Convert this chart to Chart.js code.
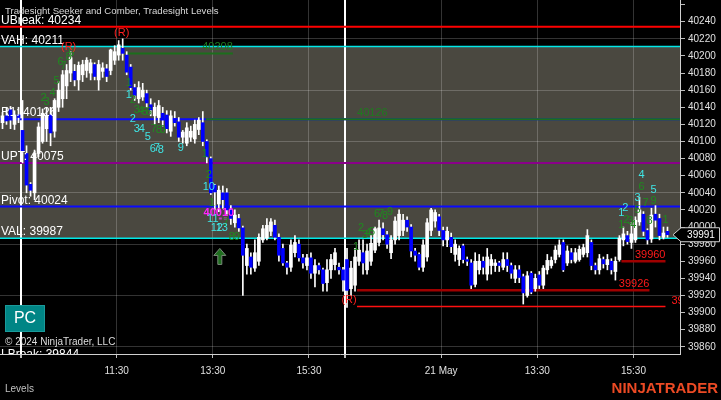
<!DOCTYPE html>
<html><head><meta charset="utf-8">
<script src="https://cdn.jsdelivr.net/npm/chart.js@4/dist/chart.umd.min.js"></script>
<style>html,body{margin:0;padding:0;background:#000;overflow:hidden}#wrap{width:721px;height:400px;position:relative}</style>
</head><body><div id="wrap"><canvas id="c" width="721" height="400"></canvas></div>
<script>
// ---------- DATA ----------
const FIRST_BAR_INDEX = -5; // bar index of first candle (prior session tail)
const opens = [40122,40130,40137,40120,40131,
40113,40086,40050,40040,40086,40100,40115,40131,40112,40140,40150,40165,40180,40182,40172,40178,40183,40180,40190,40172,40182,40185,40183,40195,40201,40209,40201,40187,40163,40150,40152,40156,40143,40130,40128,40133,40131,40112,40127,40123,40105,40098,40105,40103,40114,40122,40100,40080,40049,40027,40040,40040,40020,40005,40010,39999,39955,39965,39952,39960,39985,39987,39995,40002,39988,39975,39958,39953,39970,39980,39964,39955,39964,39946,39955,39950,39935,39950,39956,39953,39950,
39962,39928,39932,39960,39970,39950,39960,39973,39982,39998,39991,39970,39985,39990,39996,40008,40000,39972,39968,39953,39965,39996,40007,40012,39996,39985,39988,39968,39962,39978,39962,39958,39933,39950,39960,39945,39955,39955,39958,39953,39962,39955,39940,39950,39942,39920,39946,39928,39944,39932,39950,39955,39962,39968,39982,39958,39970,39960,39962,39968,39970,39982,39955,39950,39962,39956,39960,39948,39962,39985,39990,39982,39985,40006,40015,39996,39986,40015,40010,39988,39995];
const highs = [40134,40140,40141,40136,40140,
40148,40095,40052,40090,40122,40138,40140,40140,40150,40170,40183,40190,40205,40190,40193,40195,40198,40196,40192,40195,40192,40190,40208,40212,40218,40220,40205,40190,40167,40170,40168,40160,40150,40145,40148,40140,40136,40136,40135,40128,40113,40122,40118,40125,40128,40135,40102,40082,40050,40048,40048,40045,40025,40020,40015,40001,39980,39970,39985,39992,40002,40010,40010,40008,39992,39980,39960,39985,39990,39985,39968,39968,39970,39962,39958,39952,39962,39968,39975,39958,39953,
39975,39960,39975,39985,39985,39980,39990,40000,40008,40005,39995,39990,40012,40020,40015,40012,40003,39975,39970,39985,40010,40022,40020,40015,40000,40000,39993,39985,39978,39980,39965,39962,39970,39968,39965,39975,39968,39962,39960,39970,39970,39958,39955,39955,39945,39948,39948,39945,39948,39955,39968,39965,39978,39985,39985,39978,39975,39975,39978,39980,39997,39985,39958,39968,39965,39968,39963,39965,39990,40000,39995,40005,40012,40035,40018,39998,40022,40025,40015,40000,40000];
const lows = [40115,40120,40115,40114,40122,
40075,40040,40036,40032,40082,40098,40100,40095,40105,40135,40140,40150,40170,40165,40160,40170,40175,40172,40172,40160,40175,40170,40178,40190,40195,40195,40178,40160,40148,40145,40148,40140,40130,40120,40122,40118,40110,40106,40118,40100,40098,40095,40100,40098,40108,40095,40075,40038,40020,40018,40022,40015,40003,40000,39995,39920,39945,39945,39948,39955,39982,39985,39990,39985,39960,39955,39945,39948,39965,39960,39952,39950,39940,39930,39945,39925,39925,39940,39950,39945,39925,
39906,39920,39925,39955,39945,39945,39955,39970,39978,39985,39975,39963,39980,39985,39990,39995,39965,39960,39950,39948,39960,39990,40000,39990,39978,39977,39970,39960,39955,39958,39955,39928,39930,39945,39945,39938,39945,39948,39948,39950,39948,39940,39935,39935,39910,39918,39922,39925,39928,39928,39945,39952,39958,39965,39948,39955,39958,39958,39960,39965,39965,39950,39945,39945,39952,39950,39945,39938,39960,39978,39980,39975,39982,40002,39990,39980,39982,40000,39985,39986,39988];
const closes = [40130,40124,40125,40131,40128,
40088,40049,40043,40086,40117,40133,40130,40110,40148,40160,40178,40183,40198,40172,40189,40190,40195,40192,40176,40190,40186,40176,40207,40205,40213,40203,40181,40163,40154,40163,40160,40145,40137,40140,40142,40125,40115,40130,40122,40105,40111,40116,40112,40120,40125,40100,40082,40040,40041,40043,40032,40020,40010,40014,39999,39967,39975,39953,39970,39988,39998,40002,40006,39988,39967,39958,39953,39979,39982,39964,39958,39964,39946,39955,39950,39934,39950,39962,39970,39950,39938,
39926,39952,39965,39973,39958,39972,39981,39998,39999,39991,39980,39985,40007,40015,40008,40000,39972,39967,39953,39979,40005,40020,40017,39996,39985,39995,39977,39980,39975,39962,39960,39932,39960,39960,39953,39965,39962,39958,39955,39962,39955,39946,39950,39941,39923,39943,39924,39940,39932,39952,39961,39961,39973,39979,39950,39972,39962,39970,39974,39976,39990,39955,39950,39963,39957,39962,39950,39960,39987,39992,39983,39992,40008,40020,39995,39985,40014,40008,39990,39993,39991];

const levelNames  = ['UBreak','VAH','R1','UPT','Pivot','VAL','LBreak'];
const levelValues = [40234,40211,40126,40075,40024,39987,39844];
const levelColors = ['#ff0000','#00e8e8','#0a0aff','#8a008a','#0a0aff','#00e8e8','#ff0000'];

const xTickPos   = [-0.5, 23.5, 47.5, 71.5, 80.5, 104.5, 128.5, 152.5];
const xTickText  = ['', '11:30', '13:30', '15:30', '', '21 May', '13:30', '15:30'];
const sessionBreaks = [-0.5, 80.5];
const yTicks = [39860,39880,39900,39920,39940,39960,39980,40000,40020,40040,40060,40080,40100,40120,40140,40160,40180,40200,40220,40240,40260];
const yGridPrices = [39860,39920,39980,40040,40100,40160,40220];

// segments: [fromIdx, toIdx, price]
const segGreen  = [[26.25, 52.5, 40203],[45.75, 170, 40126]];
const segDarkRed= [[149.5, 160.5, 39960],[83.5, 156.5, 39926]];
const segRed    = [[83.5, 160.5, 39907]];
const segMagenta= [[49, 52.5, 40010]];
// segment labels: [idx, price, text, align]
const segGreenLabels = [[52.5, 40203, '40208', 'right'], [83.5, 40126, '40126', 'left']];
const segRedLabels   = [[160.5, 39960, '39960', 'right'], [156.5, 39926, '39926', 'right'], [162, 39907, '39906', 'left']];
const magentaLabels  = [[49, 40016, '40010']];

// counts: [idx, price, text]
const greenCounts = [[5.25,40151,'2'],[6,40146,'3'],[7.5,40157,'4'],[8.5,40171,'5'],[9.5,40193,'6'],[10.25,40188,'7'],[11.5,40199,'8'],[12.25,40203,'9'],
 [26.5,40168,'1'],[27.5,40148,'2'],[28.5,40137,'3'],[29.5,40136,'4'],[30.5,40135,'5'],[31.5,40134,'6'],[32.75,40115,'7'],[34,40113,'8'],[35,40113,'9'],
 [45.5,40086,'1'],[46.5,40061,'2'],[47.25,40028,'1'],[50.75,40005,'7'],[52.25,39988,'8'],[53.5,39988,'9'],
 [83.25,39977,'1'],[84.5,39999,'2'],[85.5,39991,'3'],[86.25,39993,'4'],[87.25,39994,'5'],[88.5,40015,'6'],[89.5,40015,'7'],[90.5,40013,'8'],[91.75,40018,'9'],
 [149.5,40003,'1'],[150.75,40008,'2'],[151.75,40007,'3'],[152.5,40002,'4'],[153.5,40020,'5'],[154.5,40047,'6'],[155.5,40028,'7'],[156.5,40007,'8'],[157.5,40030,'9'],[160.5,40008,'1']];
const cyanCounts = [[26.5,40154,'1'],[27.5,40126,'2'],[28.5,40115,'3'],[29.75,40115,'4'],[31.25,40105,'5'],[32.5,40091,'6'],[33.5,40092,'7'],[34.5,40090,'8'],[39.5,40092,'9'],
 [46.5,40047,'10'],[47.5,40009,'11'],[48.5,39999,'12'],[49.75,39999,'13'],
 [149.5,40016,'1'],[150.5,40022,'2'],[153.5,40034,'3'],[154.5,40061,'4'],[157.5,40043,'5']];
const rMarks = [[11.5,40210],[24.75,40227],[81.5,39915]];
const arrowMarks = [[49.25,39975]];

// ---------- CHART ----------
const xs = opens.map((_, k) => FIRST_BAR_INDEX + k);
const FONT = '"Liberation Sans", Arial, sans-serif';

function txt(ctx, s, x, y, color, font, align, base){
  ctx.fillStyle = color; ctx.font = font; ctx.textAlign = align || 'center'; ctx.textBaseline = base || 'middle'; ctx.fillText(s, x, y);
}
function hline(ctx, x1, x2, y, color, w, dash){
  ctx.beginPath(); ctx.strokeStyle = color; ctx.lineWidth = w; ctx.setLineDash(dash || []);
  ctx.moveTo(x1, y); ctx.lineTo(x2, y); ctx.stroke(); ctx.setLineDash([]);
}

const overlay = {
  id: 'overlay',
  beforeDraw(chart){
    const {ctx, chartArea: a, scales: {y}} = chart;
    ctx.save();
    ctx.fillStyle = '#000'; ctx.fillRect(0, 0, chart.width, chart.height);
    const yTop = y.getPixelForValue(levelValues[1]), yBot = y.getPixelForValue(levelValues[5]);
    ctx.fillStyle = 'rgb(74,72,64)'; ctx.fillRect(a.left, yTop, a.right - a.left, yBot - yTop);
    ctx.restore();
  },
  beforeDatasetsDraw(chart){
    const {ctx, chartArea: a, scales: {x, y}} = chart;
    ctx.save();
    ctx.beginPath(); ctx.rect(a.left, a.top, a.right - a.left, a.bottom - a.top); ctx.clip();
    levelValues.forEach((v, i) => hline(ctx, a.left, a.right, y.getPixelForValue(v), levelColors[i], (i===1||i===5) ? 1.5 : 2));
    segGreen.forEach(s => hline(ctx, x.getPixelForValue(s[0]), Math.min(a.right, x.getPixelForValue(s[1])), y.getPixelForValue(s[2]), '#1c6e1c', 2));
    segDarkRed.forEach(s => hline(ctx, x.getPixelForValue(s[0]), x.getPixelForValue(s[1]), y.getPixelForValue(s[2]), '#a00000', 2.5));
    segRed.forEach(s => hline(ctx, x.getPixelForValue(s[0]), x.getPixelForValue(s[1]), y.getPixelForValue(s[2]), '#ff1010', 1.5));
    segMagenta.forEach(s => hline(ctx, x.getPixelForValue(s[0]), x.getPixelForValue(s[1]), y.getPixelForValue(s[2]), '#c040c0', 2, [3,2]));
    ctx.restore();
  },
  afterDraw(chart){
    const {ctx, chartArea: a, scales: {x, y}} = chart;
    ctx.save();
    ctx.beginPath(); ctx.rect(a.left, a.top, a.right - a.left, a.bottom - a.top); ctx.clip();
    levelValues.forEach((v, i) => txt(ctx, levelNames[i] + ': ' + v, a.left + 1, y.getPixelForValue(v) - 3, '#ffffff', '12px ' + FONT, 'left', 'alphabetic'));
    segGreenLabels.forEach(s => txt(ctx, s[2], x.getPixelForValue(s[0]), y.getPixelForValue(s[1]) - 3, '#1f7a1f', '11px ' + FONT, s[3], 'alphabetic'));
    segRedLabels.forEach(s => txt(ctx, s[2], x.getPixelForValue(s[0]), y.getPixelForValue(s[1]) - 3, '#ff1a1a', '11px ' + FONT, s[3], 'alphabetic'));
    magentaLabels.forEach(s => txt(ctx, s[2], x.getPixelForValue(s[0]), y.getPixelForValue(s[1]), '#ff22ff', 'bold 11px ' + FONT, 'center', 'middle'));
    greenCounts.forEach(c => txt(ctx, c[2], x.getPixelForValue(c[0]), y.getPixelForValue(c[1]), '#1f8a1f', '11px ' + FONT));
    cyanCounts.forEach(c => txt(ctx, c[2], x.getPixelForValue(c[0]), y.getPixelForValue(c[1]), '#3fe6e6', '11px ' + FONT));
    rMarks.forEach(r => txt(ctx, '(R)', x.getPixelForValue(r[0]), y.getPixelForValue(r[1]), '#ff2020', '11px ' + FONT));
    arrowMarks.forEach(m => {
      const px = x.getPixelForValue(m[0]), py = y.getPixelForValue(m[1]);
      ctx.beginPath();
      ctx.moveTo(px, py); ctx.lineTo(px + 6, py + 7); ctx.lineTo(px + 2, py + 7); ctx.lineTo(px + 2, py + 16);
      ctx.lineTo(px - 2, py + 16); ctx.lineTo(px - 2, py + 7); ctx.lineTo(px - 6, py + 7); ctx.closePath();
      ctx.fillStyle = '#1f6e1f'; ctx.fill(); ctx.strokeStyle = '#7a8a7a'; ctx.lineWidth = 1; ctx.stroke();
    });
    txt(ctx, 'Tradesight Seeker and Comber, Tradesight Levels', a.left + 5, 11, '#d8d8d8', '9.6px ' + FONT, 'left', 'middle');
    ctx.fillStyle = '#008585'; ctx.fillRect(a.left + 5, 305, 40, 27);
    ctx.strokeStyle = '#1a9a9a'; ctx.lineWidth = 1; ctx.strokeRect(a.left + 5.5, 305.5, 39, 26);
    txt(ctx, 'PC', a.left + 25, 319, '#ffffff', '16px ' + FONT);
    txt(ctx, '\u00a9 2024 NinjaTrader, LLC', a.left + 5, 342, '#dddddd', '10px ' + FONT, 'left', 'middle');
    ctx.restore();

    ctx.save();
    txt(ctx, 'Levels', 5, 389, '#c0c0c0', '10px ' + FONT, 'left', 'middle');
    txt(ctx, 'NINJATRADER', 718, 389, '#ec4a24', 'bold 15px ' + FONT, 'right', 'middle');
    const last = closes[closes.length - 1];
    const py = y.getPixelForValue(last);
    ctx.beginPath();
    ctx.moveTo(a.right - 7, py); ctx.lineTo(a.right + 1, py - 7); ctx.lineTo(719.5, py - 7); ctx.lineTo(719.5, py + 7); ctx.lineTo(a.right + 1, py + 7); ctx.closePath();
    ctx.fillStyle = '#000'; ctx.fill(); ctx.strokeStyle = '#cfcfcf'; ctx.lineWidth = 1; ctx.stroke();
    txt(ctx, String(last), 701, py + 0.5, '#ffffff', '10px ' + FONT, 'center', 'middle');
    ctx.restore();
  }
};

new Chart(document.getElementById('c'), {
  type: 'bar',
  data: {
    datasets: [
      { label: 'wick', data: xs.map((v, k) => ({x: v, y: [lows[k], highs[k]]})), backgroundColor: '#ffffff', barThickness: 1, grouped: false, order: 2, borderWidth: 0 },
      { label: 'body', data: xs.map((v, k) => ({x: v, y: [opens[k], closes[k]]})), backgroundColor: xs.map((v, k) => closes[k] >= opens[k] ? '#ffffff' : '#0000ff'), barThickness: 3, grouped: false, order: 1, borderWidth: 0, minBarLength: 1 }
    ]
  },
  options: {
    responsive: false, animation: false, devicePixelRatio: 1, events: [],
    layout: { padding: 0 },
    plugins: { legend: { display: false }, tooltip: { enabled: false } },
    scales: {
      x: {
        type: 'linear', min: -5.625, max: 164.125, offset: false,
        afterBuildTicks: s => { s.ticks = xTickPos.map(v => ({value: v})); },
        afterFit: s => { s.height = 46; s.paddingLeft = 0; s.paddingRight = 0; },
        ticks: { autoSkip: false, maxRotation: 0, padding: 7, color: '#e0e0e0', font: { size: 10, family: FONT },
          callback: (v) => { const i = xTickPos.indexOf(v); return i >= 0 ? xTickText[i] : ''; } },
        grid: {
          offset: false,
          color: c => sessionBreaks.includes(c.tick && c.tick.value) ? '#ffffff' : 'rgba(255,255,255,0.2)',
          lineWidth: c => sessionBreaks.includes(c.tick && c.tick.value) ? 2 : 1,
          tickColor: '#bdbdbd', tickLength: 4
        },
        border: { color: '#d0d0d0', width: 1 }
      },
      y: {
        type: 'linear', position: 'right', min: 39851.6, max: 40265.4,
        afterBuildTicks: s => { s.ticks = yTicks.map(v => ({value: v})); },
        afterFit: s => { s.width = 41; s.paddingTop = 0; s.paddingBottom = 0; },
        ticks: { padding: 3, color: '#e0e0e0', font: { size: 10, family: FONT },
          callback: v => v === 40260 ? '' : String(v) },
        grid: {
          offset: false,
          color: c => yGridPrices.includes(c.tick && c.tick.value) ? 'rgba(255,255,255,0.2)' : 'rgba(0,0,0,0)',
          tickColor: '#bdbdbd', tickLength: 5
        },
        border: { color: '#d0d0d0', width: 1 }
      }
    }
  },
  plugins: [overlay]
});
</script></body></html>
